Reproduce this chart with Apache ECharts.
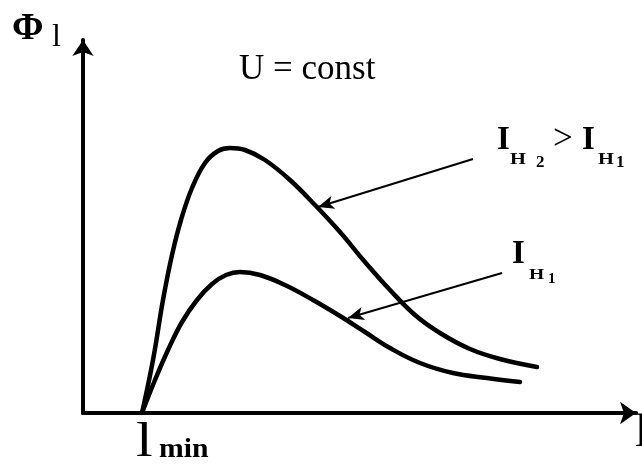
<!DOCTYPE html>
<html>
<head>
<meta charset="utf-8">
<script src="https://cdn.jsdelivr.net/npm/echarts@6/dist/echarts.min.js"></script>
<style>html,body{margin:0;padding:0;background:#fff}#c{width:642px;height:467px}</style>
</head>
<body>
<div id="c"></div>
<script>
// Curve for I_H2 > I_H1 (upper)
const upperX = [59, 70, 80, 89, 98, 109, 122, 135, 147, 162, 182, 207, 232, 257, 282, 307, 332, 357, 387, 417, 454];
const upperY = [0, 53, 113, 158, 193, 225, 250, 262, 265, 263, 253, 233, 208, 181, 151, 123, 98, 80, 64, 54, 46];
// Curve for I_H1 (lower)
const lowerX = [59, 72, 85, 99, 114, 129, 143, 157, 177, 202, 230, 257, 282, 307, 337, 370, 404, 437];
const lowerY = [0, 33, 63, 91, 113, 129, 138, 141, 138, 128, 113, 97, 81, 65, 50, 40, 35, 31];
// Pointer arrows: [fromX, fromY, toX, toY]
const arrowUpper = [390, 254, 235, 206];
const arrowLower = [419, 140, 265, 95];
const xRange = [0, 553];
const yRange = [0, 373];

const SERIF = '"Liberation Serif","Times New Roman",serif';
function zip(xs, ys) { return xs.map((x, i) => [x, ys[i]]); }
function txt(str, x, base, size, bold, sx) {
  return {
    type: 'text', x: x, y: base + 0.16 * size, z: 100, scaleX: sx || 1,
    style: { text: str, fill: '#000', font: (bold ? 'bold ' : '') + size + 'px ' + SERIF, verticalAlign: 'bottom', align: 'left' }
  };
}
function arrowLine(a) {
  return [{ coord: [a[0], a[1]] }, { coord: [a[2], a[3]] }];
}

const chart = echarts.init(document.getElementById('c'));
chart.setOption({
  animation: false,
  grid: { left: 83, top: 40, width: 553, height: 373, containLabel: false },
  xAxis: {
    type: 'value', min: xRange[0], max: xRange[1],
    axisLine: { show: true, onZero: false, symbol: ['none', 'arrow'], symbolSize: [17, 16], lineStyle: { color: '#000', width: 4 } },
    axisTick: { show: false }, axisLabel: { show: false }, splitLine: { show: false }
  },
  yAxis: {
    type: 'value', min: yRange[0], max: yRange[1],
    axisLine: { show: true, onZero: false, symbol: ['none', 'arrow'], symbolSize: [16, 16], lineStyle: { color: '#000', width: 4 } },
    axisTick: { show: false }, axisLabel: { show: false }, splitLine: { show: false }
  },
  series: [
    {
      type: 'line', data: zip(upperX, upperY), symbol: 'none', smooth: 0.4,
      lineStyle: { color: '#000', width: 4.5, cap: 'round' },
      markLine: { silent: true, symbol: ['none', 'arrow'], symbolSize: [10, 16], label: { show: false },
        lineStyle: { color: '#000', width: 2, type: 'solid' }, data: [arrowLine(arrowUpper)] }
    },
    {
      type: 'line', data: zip(lowerX, lowerY), symbol: 'none', smooth: 0.4,
      lineStyle: { color: '#000', width: 4.5, cap: 'round' },
      markLine: { silent: true, symbol: ['none', 'arrow'], symbolSize: [10, 16], label: { show: false },
        lineStyle: { color: '#000', width: 2, type: 'solid' }, data: [arrowLine(arrowLower)] }
    }
  ],
  graphic: [
    txt('Φ', 12, 42, 38, true),
    txt('l', 52, 48, 32, false),
    txt('U = const', 239, 82, 35, false),
    txt('I', 497, 152, 33, true),
    txt('H', 510, 165, 17, true, 1.2),
    txt('2', 536, 168, 17, true),
    txt('>', 553, 152, 35, false),
    txt('I', 582, 152, 33, true),
    txt('H', 598, 165, 17, true, 1.2),
    txt('1', 616, 168, 17, true),
    txt('I', 512, 266, 33, true),
    txt('H', 529, 280, 15, true, 1.3),
    txt('1', 548, 284, 15, true),
    txt('l', 136, 460, 48, false, 1.25),
    txt('min', 159, 459, 27, true, 1.1),
    txt('l', 635, 450, 46, false)
  ]
});
</script>
</body>
</html>
